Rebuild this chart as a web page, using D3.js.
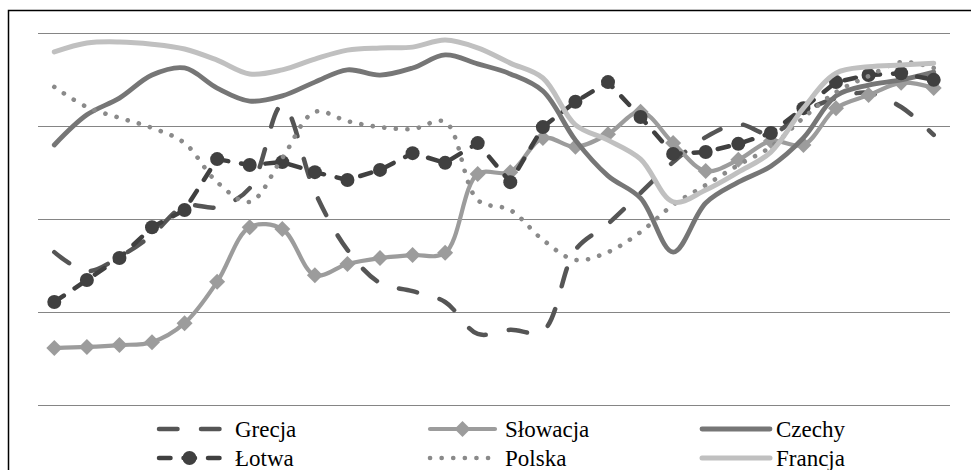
<!DOCTYPE html>
<html>
<head>
<meta charset="utf-8">
<script src="https://cdn.jsdelivr.net/npm/d3@7/dist/d3.min.js"></script>
<style>
  html, body { margin: 0; padding: 0; background: #fff; }
  svg { display: block; }
  .legend-text { font-family: "Liberation Serif", "Times New Roman", "DejaVu Serif", serif; }
</style>
</head>
<body>
<svg id="chart" width="971" height="470"></svg>
<script>
// ---- data ----
const categories = ["1","2","3","4","5","6","7","8","9","10","11","12","13","14",
                    "15","16","17","18","19","20","21","22","23","24","25","26","27","28"];
const yTicks = [0, 25, 50, 75, 100];

const grecja   = [41.1, 36.0, 39.8, 45.7, 53.5, 53.2, 58.3, 80.6, 57.3, 41.7, 32.8, 30.6, 27.7, 19.1,
                  20.2, 19.9, 41.7, 48.7, 57.0, 65.3, 72.0, 75.5, 72.8, 78.8, 82.5, 83.9, 80.1, 72.6];
const slowacja = [15.3, 15.6, 16.1, 16.9, 22.0, 33.1, 47.8, 47.3, 34.9, 37.9, 39.5, 40.3, 40.9, 62.1,
                  62.6, 71.8, 69.4, 72.8, 78.8, 70.4, 62.9, 65.9, 71.0, 69.9, 79.8, 83.3, 86.6, 85.2];
const czechy   = [69.9, 78.0, 82.5, 88.7, 90.6, 85.2, 81.7, 83.1, 86.8, 90.1, 88.7, 90.6, 94.1, 91.7,
                  89.0, 84.4, 71.2, 61.6, 55.6, 41.1, 54.3, 59.9, 64.2, 71.8, 83.1, 86.0, 87.4, 89.5];
const lotwa    = [27.7, 33.6, 39.5, 47.8, 52.4, 66.1, 64.5, 65.3, 62.6, 60.5, 63.2, 67.7, 65.1, 70.4,
                  59.9, 74.7, 81.5, 86.8, 77.4, 67.5, 68.0, 70.2, 73.1, 79.8, 86.8, 88.7, 89.2, 87.4];
const polska   = [85.5, 80.1, 77.2, 74.5, 70.4, 59.9, 54.6, 66.4, 78.8, 76.3, 74.7, 74.2, 76.1, 55.1,
                  52.4, 44.4, 39.0, 41.1, 46.5, 53.8, 59.1, 64.5, 69.4, 77.2, 84.1, 88.4, 92.2, 90.6];
const francja  = [94.9, 97.3, 97.6, 97.0, 95.7, 92.7, 89.0, 90.1, 93.0, 95.4, 96.0, 96.2, 98.1, 96.0,
                  91.9, 87.9, 75.3, 71.2, 66.1, 54.6, 57.8, 62.6, 68.0, 79.8, 89.2, 90.9, 91.4, 91.9];

const seriesNames = ["Grecja", "Słowacja", "Czechy", "Łotwa", "Polska", "Francja"];

// ---- styles (kept apart from data) ----
const styles = {
  "Grecja":   { values: grecja,   color: "#555555", width: 4.5, dash: "18.5,23.5", curve: "smooth", marker: null },
  "Słowacja": { values: slowacja, color: "#9c9c9c", width: 4.2, dash: null,        curve: "smooth", marker: "diamond" },
  "Czechy":   { values: czechy,   color: "#767676", width: 4.8, dash: null,        curve: "smooth", marker: null },
  "Łotwa":    { values: lotwa,    color: "#404040", width: 4.5, dash: "11.5,13",   curve: "linear", marker: "circle" },
  "Polska":   { values: polska,   color: "#8a8a8a", width: 4.6, dash: "0.1,11.5",  curve: "smooth", marker: null },
  "Francja":  { values: francja,  color: "#c0c0c0", width: 5,   dash: null,        curve: "smooth", marker: null }
};

const svg = d3.select("#chart");

// frame
svg.append("rect")
  .attr("x", 8.5).attr("y", 10.5)
  .attr("width", 975).attr("height", 480)
  .attr("fill", "#fff").attr("stroke", "#000").attr("stroke-width", 1.5);

const plotLeft = 38, plotRight = 950, plotTop = 33, plotBottom = 405;

const x = d3.scaleBand().domain(categories).range([plotLeft, plotRight]).padding(0);
const y = d3.scaleLinear().domain([0, 100]).range([plotBottom, plotTop]);
const cx = c => x(c) + x.bandwidth() / 2;

// gridlines via axis
const grid = svg.append("g")
  .attr("transform", `translate(${plotLeft},0)`)
  .call(d3.axisLeft(y).tickValues(yTicks).tickSize(-(plotRight - plotLeft)).tickFormat(""));
grid.select(".domain").remove();
grid.selectAll(".tick line").attr("stroke", "#858585").attr("stroke-width", 1.2);

const plot = svg.append("g");

seriesNames.forEach(name => {
  const s = styles[name];
  const pts = categories.map((c, i) => [cx(c), y(s.values[i])]);
  const line = d3.line()
    .curve(s.curve === "smooth" ? d3.curveCatmullRom.alpha(0.5) : d3.curveLinear);
  const path = plot.append("path")
    .attr("d", line(pts))
    .attr("fill", "none")
    .attr("stroke", s.color)
    .attr("stroke-width", s.width)
    .attr("stroke-linecap", "round")
    .attr("stroke-linejoin", "round");
  if (s.dash) path.attr("stroke-dasharray", s.dash);

  if (s.marker === "diamond") {
    plot.selectAll(null).data(pts).enter().append("path")
      .attr("transform", d => `translate(${d[0]},${d[1]})`)
      .attr("d", "M0,-8L8,0L0,8L-8,0Z")
      .attr("fill", s.color);
  } else if (s.marker === "circle") {
    plot.selectAll(null).data(pts).enter().append("circle")
      .attr("cx", d => d[0]).attr("cy", d => d[1]).attr("r", 7)
      .attr("fill", s.color);
  }
});

// legend
const legendCols = [157, 428, 700];
const legendLineLen = [65, 69, 72];
const legendTextX = [235, 505, 776];
const legendRows = [429, 458];
const legendOrder = [["Grecja", 0, 0], ["Słowacja", 1, 0], ["Czechy", 2, 0],
                     ["Łotwa", 0, 1], ["Polska", 1, 1], ["Francja", 2, 1]];
const lg = svg.append("g");
legendOrder.forEach(([name, col, row]) => {
  const s = styles[name];
  const x0 = legendCols[col], x1 = x0 + legendLineLen[col], yy = legendRows[row];
  const lp = lg.append("line")
    .attr("x1", x0 + 2).attr("x2", x1 - 2).attr("y1", yy).attr("y2", yy)
    .attr("stroke", s.color).attr("stroke-width", s.width)
    .attr("stroke-linecap", "round");
  if (s.dash) lp.attr("stroke-dasharray", s.dash);
  const mx = (x0 + x1) / 2;
  if (s.marker === "diamond") {
    lg.append("path").attr("transform", `translate(${mx},${yy})`)
      .attr("d", "M0,-8L8,0L0,8L-8,0Z").attr("fill", s.color);
  } else if (s.marker === "circle") {
    lg.append("circle").attr("cx", mx).attr("cy", yy).attr("r", 7).attr("fill", s.color);
  }
  lg.append("text")
    .attr("class", "legend-text")
    .attr("x", legendTextX[col]).attr("y", yy + 7.5)
    .style("font-size", "23px")
    .attr("fill", "#000")
    .text(name);
});
</script>
</body>
</html>
